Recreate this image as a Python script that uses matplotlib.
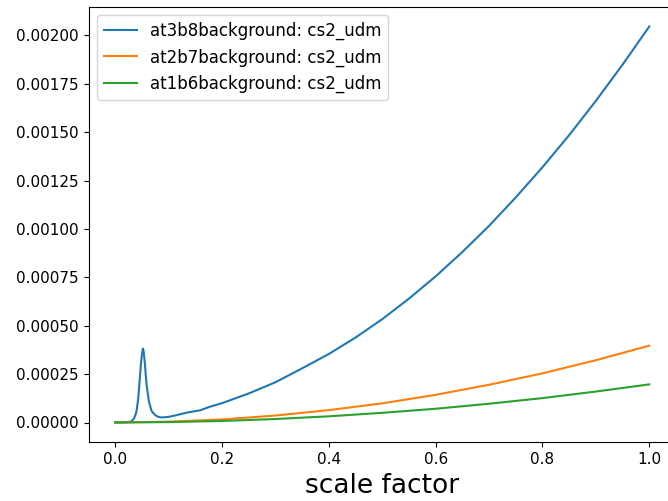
import matplotlib
matplotlib.use("Agg")
import matplotlib.pyplot as plt
from matplotlib.ticker import MultipleLocator, FormatStrFormatter

# at3b8 background (blue)
x_at3b8 = [0.0, 0.02, 0.03, 0.035, 0.038, 0.04, 0.043, 0.045, 0.047, 0.048, 0.050,
           0.051, 0.052, 0.053, 0.054, 0.055, 0.056, 0.057, 0.059, 0.061, 0.063,
           0.066, 0.068, 0.071, 0.075, 0.080, 0.087, 0.1, 0.115, 0.134, 0.159, 0.178,
           0.2, 0.25, 0.3, 0.346, 0.4, 0.45, 0.5, 0.55, 0.6, 0.65, 0.7, 0.75, 0.8,
           0.85, 0.9, 0.95, 1.0]
y_at3b8 = [0.0, 0.000001, 0.000005, 0.00002, 0.00004, 0.00006, 0.00012, 0.00019,
           0.00026, 0.00030, 0.00035, 0.00037, 0.000382, 0.00037, 0.00035, 0.00032,
           0.00029, 0.00025, 0.00019, 0.00015, 0.00011, 0.00008, 0.00006, 0.00005,
           0.000038, 0.00003, 0.000026, 0.000029, 0.000038, 0.000051, 0.000063,
           0.000082, 0.000100, 0.000150, 0.000208, 0.000274, 0.000354, 0.000439,
           0.000534, 0.000640, 0.000755, 0.000881, 0.001016, 0.001163, 0.001319,
           0.001485, 0.001662, 0.001849, 0.002046]

# at2b7 / at1b6 backgrounds
x_grid = [0.0, 0.1, 0.2, 0.3, 0.4, 0.5, 0.6, 0.7, 0.8, 0.9, 1.0]
y_at2b7 = [0.0, 0.000004, 0.000016, 0.000036, 0.000064, 0.000099, 0.000143,
           0.000195, 0.000254, 0.000322, 0.000397]
y_at1b6 = [0.0, 0.000002, 0.000008, 0.000018, 0.000032, 0.000050, 0.000071,
           0.000097, 0.000126, 0.000160, 0.000197]

labels = ["at3b8background: cs2_udm", "at2b7background: cs2_udm", "at1b6background: cs2_udm"]
xlabel = "scale factor"

fig = plt.figure(figsize=(6.68, 5.01), dpi=100)
ax = fig.add_axes([88.5 / 668, (501 - 442.3) / 501, 587.5 / 668, (442.3 - 6.7) / 501])
ax.plot(x_at3b8, y_at3b8, label=labels[0])
ax.plot(x_grid, y_at2b7, label=labels[1])
ax.plot(x_grid, y_at1b6, label=labels[2])
ax.yaxis.set_major_locator(MultipleLocator(0.00025))
ax.yaxis.set_major_formatter(FormatStrFormatter("%.5f"))
ax.tick_params(labelsize=11)
ax.set_xlabel(xlabel, fontsize=19)
ax.legend(loc="upper left", fontsize=12)
fig.savefig("out.png", dpi=100)
